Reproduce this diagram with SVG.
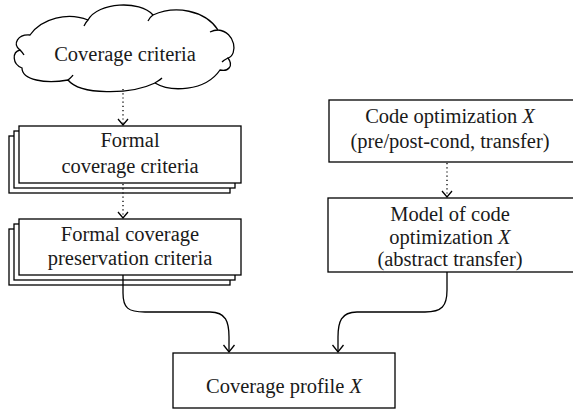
<svg xmlns="http://www.w3.org/2000/svg" width="573" height="411" viewBox="0 0 573 411">
<defs>
<style>
.box{fill:#fff;stroke:#000;stroke-width:1.3}
.t{font-family:"Liberation Serif","Times New Roman",serif;font-size:20.5px;fill:#1a1a1a;text-anchor:middle}
.c{fill:none;stroke:#000;stroke-width:1.3}
.d{fill:none;stroke:#000;stroke-width:1.3;stroke-dasharray:1.2,3}
</style>
<marker id="ah" markerUnits="userSpaceOnUse" markerWidth="14" markerHeight="14" refX="0" refY="0" viewBox="-9 -7 10 14" orient="auto" overflow="visible">
<path d="M-7,-5.5 L0,0 L-7,5.5" fill="none" stroke="#000" stroke-width="1.3"/>
</marker>
</defs>
<rect width="573" height="411" fill="#fff"/>
<g id="cloud">
<path class="box" d="M30,35 C42,18 68,12 88,20 C98,2 140,0 153,15 C175,5 205,10 218,30 C236,32 238,55 228,58 C234,66 228,72 220,70 C205,92 170,92 155,83 C130,95 80,95 68,80 C45,84 22,80 22,68 C12,64 12,52 20,50 C12,44 18,34 30,35 Z"/>
<path class="c" d="M88,20 C86,22 85,24 84,26 M153,15 C150,17 149,19 148,21 M218,30 C214,30 212,31 210,32 M228,58 C226,59 224,60 222,62 M155,83 C158,81 160,80 162,78 M68,80 C70,78 72,77 73,75 M20,50 C22,52 23,53 24,55"/>
<text class="t" x="125" y="61">Coverage criteria</text>
</g>
<g id="formal">
<rect class="box" x="9" y="136" width="221" height="57"/>
<rect class="box" x="14" y="131" width="221" height="57"/>
<rect class="box" x="19" y="126" width="222" height="57"/>
<text class="t" x="130" y="147">Formal</text>
<text class="t" x="130" y="173">coverage criteria</text>
</g>
<g id="preservation">
<rect class="box" x="9" y="229" width="221" height="56"/>
<rect class="box" x="14" y="224" width="221" height="56"/>
<rect class="box" x="19" y="219" width="222" height="56"/>
<text class="t" x="130" y="241">Formal coverage</text>
<text class="t" x="130" y="265">preservation criteria</text>
</g>
<g id="codeopt">
<rect class="box" x="329" y="100" width="246" height="62"/>
<text class="t" x="450" y="123">Code optimization <tspan font-style="italic">X</tspan></text>
<text class="t" x="450" y="148">(pre/post-cond, transfer)</text>
</g>
<g id="model">
<rect class="box" x="328" y="198" width="247" height="74"/>
<text class="t" x="450" y="221">Model of code</text>
<text class="t" x="450" y="244">optimization <tspan font-style="italic">X</tspan></text>
<text class="t" x="450" y="266">(abstract transfer)</text>
</g>
<g id="profile">
<rect class="box" x="173" y="353" width="222" height="55"/>
<text class="t" x="284" y="393">Coverage profile <tspan font-style="italic">X</tspan></text>
</g>
<g id="connectors">
<path class="d" d="M123,89 V125"/>
<path class="d" d="M123,184 V218"/>
<path class="d" d="M447,163 V197"/>
<path d="M118,119 L123,125 L128,119 M118,212 L123,218 L128,212 M442,191 L447,197 L452,191" fill="none" stroke="#000" stroke-width="1.3"/>
<path class="c" marker-end="url(#ah)" d="M123,275 V293 C123,308 128,312 145,312 H210 C226,312 229,322 229,337 V352"/>
<path class="c" marker-end="url(#ah)" d="M447,272 V290 C447,306 442,312 425,312 H357 C341,312 338,322 338,337 V352"/>
</g>
</svg>
